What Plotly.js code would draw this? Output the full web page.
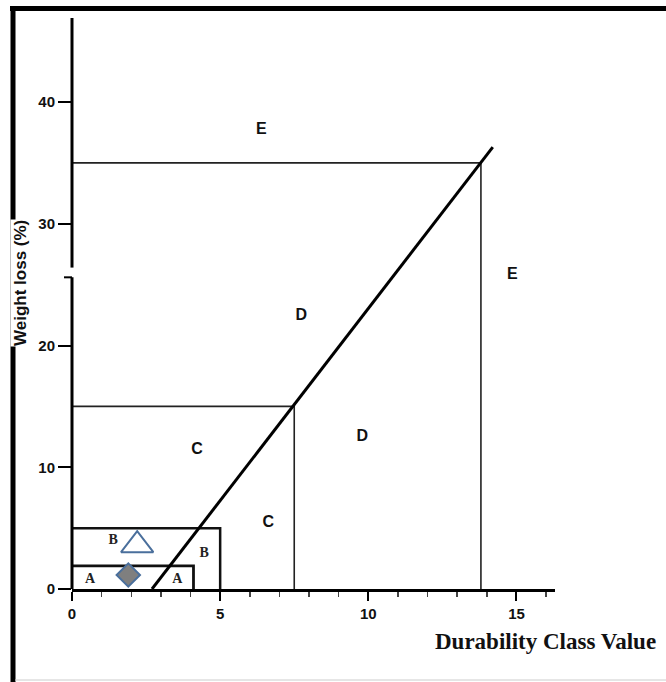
<!DOCTYPE html>
<html>
<head>
<meta charset="utf-8">
<script src="https://cdn.plot.ly/plotly-3.0.1.min.js"></script>
<style>
html,body{margin:0;padding:0;background:#fff;}
#chart{width:666px;height:682px;}
</style>
</head>
<body>
<div id="chart"></div>
<script>
// ---- data ----
const diagonalX = [2.7, 14.2];
const diagonalY = [0, 36.3];

const boundaryE_X = [-0.35, 13.8, 13.8];
const boundaryE_Y = [35, 35, 0];
const boundaryD_X = [0, 7.5, 7.5];
const boundaryD_Y = [15, 15, 0];
const boundaryB_X = [0, 5, 5];
const boundaryB_Y = [5, 5, 0];
const boundaryA_X = [0, 4.1, 4.1];
const boundaryA_Y = [1.9, 1.9, 0];

const triangleX = [2.2];
const triangleY = [3.6];
const diamondX = [1.9];
const diamondY = [1.15];

const sansLabels = ['E', 'E', 'D', 'D', 'C', 'C'];
const sansLabelX = [6.39, 14.86, 7.74, 9.8, 4.22, 6.62];
const sansLabelY = [37.7, 25.8, 22.4, 12.5, 11.4, 5.4];

const serifLabels = ['B', 'B', 'A', 'A'];
const serifLabelX = [1.39, 4.46, 0.61, 3.55];
const serifLabelY = [4.0, 2.9, 0.8, 0.8];

const xTickVals = [0, 5, 10, 15];
const xTickText = ['0', '5', '10', '15'];
const yTickVals = [0, 10, 20, 30, 40];
const yTickText = ['0', '10', '20', '30', '40'];

const xTitle = 'Durability Class Value';
const yTitle = 'Weight loss (%)';

// ---- layout helpers ----
const L = 72, T = 18, W = 483, H = 571;
const px = v => (v - L) / W;           // pixel x -> paper x
const py = v => (T + H - v) / H;       // pixel y -> paper y

const lineTrace = (x, y, w, c) => ({
  x: x, y: y, type: 'scatter', mode: 'lines',
  line: {color: c, width: w}, hoverinfo: 'skip', showlegend: false, cliponaxis: false
});

const data = [
  lineTrace(boundaryE_X, boundaryE_Y, 1.6, '#222'),
  lineTrace(boundaryD_X, boundaryD_Y, 1.6, '#222'),
  lineTrace(boundaryB_X, boundaryB_Y, 2.5, '#111'),
  lineTrace(boundaryA_X, boundaryA_Y, 2.8, '#111'),
  lineTrace(diagonalX, diagonalY, 3, '#000'),
  {
    x: triangleX, y: triangleY, type: 'scatter', mode: 'markers',
    marker: {symbol: 'triangle-up-open', size: 28, color: '#4a6f9c', line: {width: 2, color: '#4a6f9c'}},
    showlegend: false, cliponaxis: false
  },
  {
    x: diamondX, y: diamondY, type: 'scatter', mode: 'markers',
    marker: {symbol: 'diamond', size: 18, color: '#7f7f7f', line: {width: 2, color: '#4a6f9c'}},
    showlegend: false, cliponaxis: false
  },
  {
    x: sansLabelX, y: sansLabelY, text: sansLabels, type: 'scatter', mode: 'text',
    textfont: {family: 'Liberation Sans, Arial, sans-serif', size: 16, color: '#111', weight: 'bold'},
    showlegend: false, hoverinfo: 'skip', cliponaxis: false
  },
  {
    x: serifLabelX, y: serifLabelY, text: serifLabels, type: 'scatter', mode: 'text',
    textfont: {family: 'Liberation Serif, Times New Roman, serif', size: 14, color: '#222', weight: 'bold'},
    showlegend: false, hoverinfo: 'skip', cliponaxis: false
  }
];

const layout = {
  width: 666, height: 682,
  margin: {l: L, r: 666 - L - W, t: T, b: 682 - T - H, pad: 0},
  paper_bgcolor: '#fff', plot_bgcolor: '#fff',
  showlegend: false,
  xaxis: {
    range: [0, 16.3], showgrid: false, zeroline: false,
    showline: true, linewidth: 3, linecolor: '#000',
    ticks: 'outside', ticklen: 9, tickwidth: 2, tickcolor: '#000',
    tickvals: xTickVals, ticktext: xTickText,
    minor: {dtick: 1, tick0: 0, ticks: 'outside', ticklen: 5, tickwidth: 1.5, tickcolor: '#444', showgrid: false},
    tickfont: {family: 'Liberation Sans, Arial, sans-serif', size: 15, color: '#111', weight: 'bold'},
    fixedrange: true
  },
  yaxis: {
    range: [0, 46.9], showgrid: false, zeroline: false, showline: false,
    ticks: 'outside', ticklen: 13, tickwidth: 2, tickcolor: '#000',
    tickvals: yTickVals, ticktext: yTickText,
    tickfont: {family: 'Liberation Sans, Arial, sans-serif', size: 15, color: '#111', weight: 'bold'},
    fixedrange: true
  },
  shapes: [
    // y axis drawn in two pieces with a break
    {type: 'line', xref: 'paper', yref: 'y', x0: 0, x1: 0, y0: 0, y1: 25.6, line: {color: '#000', width: 3}},
    {type: 'line', xref: 'paper', yref: 'y', x0: 0, x1: 0, y0: 26.4, y1: 46.9, line: {color: '#000', width: 3}},
    {type: 'line', xref: 'paper', yref: 'y', x0: px(64), x1: 0, y0: 25.6, y1: 25.6, line: {color: '#000', width: 2}},
    // outer frame
    {type: 'line', xref: 'paper', yref: 'paper', x0: px(10), x1: px(666), y0: py(8.5), y1: py(8.5), line: {color: '#000', width: 5}},
    {type: 'line', xref: 'paper', yref: 'paper', x0: px(13), x1: px(13), y0: py(6), y1: py(682), line: {color: '#000', width: 5}},
    {type: 'line', xref: 'paper', yref: 'paper', x0: px(15), x1: px(666), y0: py(680), y1: py(680), line: {color: '#ccc', width: 1}}
  ],
  annotations: [
    {
      text: xTitle, xref: 'paper', yref: 'paper', x: px(545), y: py(641),
      xanchor: 'center', yanchor: 'middle', showarrow: false,
      font: {family: 'Liberation Serif, Times New Roman, serif', size: 23, color: '#111', weight: 'bold'}
    },
    {
      text: yTitle, xref: 'paper', yref: 'paper', x: px(20), y: py(283),
      xanchor: 'center', yanchor: 'middle', showarrow: false, textangle: -90,
      bgcolor: '#fff', borderpad: 0,
      font: {family: 'Liberation Sans, Arial, sans-serif', size: 17, color: '#111', weight: 'bold'}
    }
  ]
};

Plotly.newPlot('chart', data, layout, {displayModeBar: false, staticPlot: true});
</script>
</body>
</html>
